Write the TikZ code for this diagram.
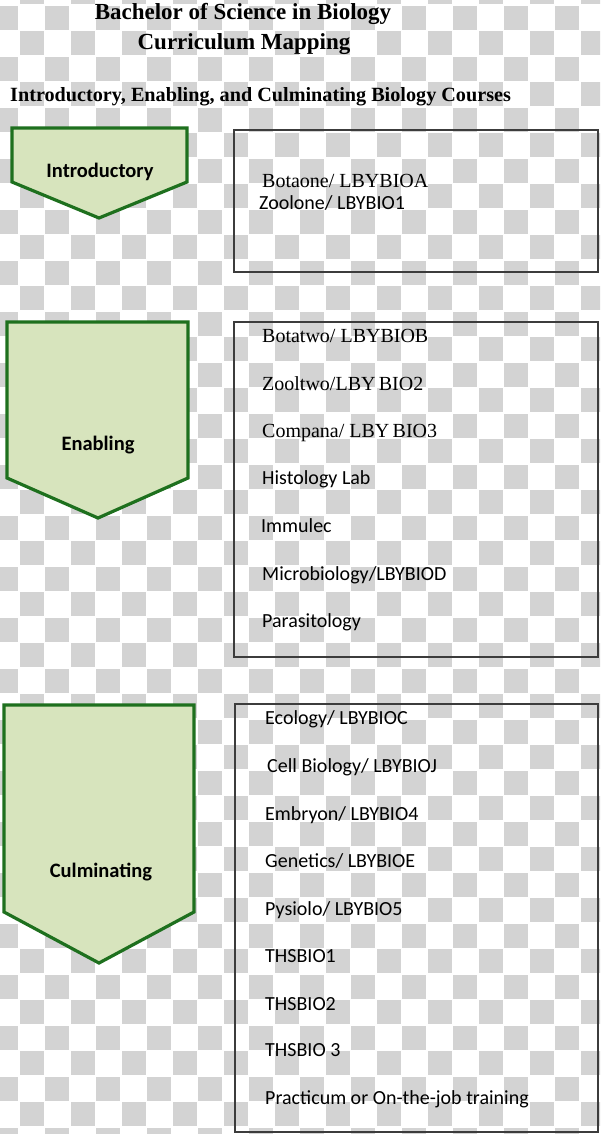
\documentclass[tikz,border=0pt]{standalone}
\usepackage{fontspec}
\setmainfont{Liberation Serif}
\newfontfamily\calfont{Carlito}
\definecolor{checkgray}{RGB}{211,211,211}
\definecolor{chevfill}{RGB}{215,228,189}
\definecolor{chevline}{RGB}{30,112,30}
\definecolor{boxline}{RGB}{60,60,60}
\tikzset{
  chevron/.style={draw=chevline,fill=chevfill,line width=3.2pt,line join=miter},
  coursebox/.style={draw=boxline,line width=1.2pt},
  chevlabel/.style={font=\calfont\bfseries\fontsize{20.5}{24}\selectfont,inner sep=0pt},
  titletext/.style={font=\bfseries\fontsize{23}{27}\selectfont,inner sep=0pt,anchor=base},
  subtitletext/.style={font=\bfseries\fontsize{20.2}{24}\selectfont,inner sep=0pt,anchor=base west},
  timesitem/.style={font=\fontsize{20}{24}\selectfont,inner sep=0pt,anchor=base west},
  calitem/.style={font=\calfont\fontsize{20}{24}\selectfont,inner sep=0pt,anchor=base west},
}
\begin{document}
\begin{tikzpicture}[x=1pt,y=-1pt]
\useasboundingbox (0,0) rectangle (600,1134);
\begin{scope}
\clip (0,0) rectangle (600,1134);
\fill[white] (0,0) rectangle (600,1134);
\foreach \j in {0,...,45} {
  \foreach \i in {0,...,24} {
    \pgfmathtruncatemacro\cellpar{mod(\i+\j,2)}
    \ifnum\cellpar=1
      \fill[checkgray] ({19+25.5*(\i-1)+0.8},{5+25.5*(\j-1)+0.8}) rectangle ({19+25.5*\i-0.8},{5+25.5*\j-0.8});
    \fi
  }
}
\end{scope}

% titles
\node[titletext] (t1) at (243,20) {Bachelor of Science in Biology};
\node[titletext] (t2) at (244,50) {Curriculum Mapping};
\node[subtitletext] (t3) at (10,102) {Introductory, Enabling, and Culminating Biology Courses};

% chevrons
\draw[chevron] (12,128) -- (187,128) -- (187,182) -- (99,218) -- (12,182) -- cycle;
\node[chevlabel] (intro) at (100,172) {Introductory};
\draw[chevron] (7,322) -- (188,322) -- (188,478) -- (98,518) -- (7,478) -- cycle;
\node[chevlabel] (enab) at (98,445) {Enabling};
\draw[chevron] (4,705) -- (194,705) -- (194,912) -- (99,963) -- (4,912) -- cycle;
\node[chevlabel] (culm) at (101,872) {Culminating};

% boxes
\draw[coursebox] (234,130) rectangle (598,272);
\draw[coursebox] (234,322) rectangle (598,657);
\draw[coursebox] (235,704) rectangle (598,1132);

% box 1
\node[timesitem] (b1a) at (262,187) {Botaone/ LBYBIOA};
\node[calitem] (b1b) at (259,209) {Zoolone/ LBYBIO1};

% box 2
\node[timesitem] (b2a) at (262,342) {Botatwo/ LBYBIOB};
\node[timesitem] (b2b) at (262,390) {Zooltwo/LBY\,BIO2};
\node[timesitem] (b2c) at (262,437) {Compana/ LBY\,BIO3};
\node[calitem] (b2d) at (262,484) {Histology Lab};
\node[calitem] (b2e) at (261,532) {Immulec};
\node[calitem] (b2f) at (262,580) {Microbiology/LBYBIOD};
\node[calitem] (b2g) at (262,627) {Parasitology};

% box 3
\node[calitem] (b3a) at (265,724) {Ecology/ LBYBIOC};
\node[calitem] (b3b) at (267,772) {Cell Biology/ LBYBIOJ};
\node[calitem] (b3c) at (265,820) {Embryon/ LBYBIO4};
\node[calitem] (b3d) at (265,867) {Genetics/ LBYBIOE};
\node[calitem] (b3e) at (265,915) {Pysiolo/ LBYBIO5};
\node[calitem] (b3f) at (265,962) {THSBIO1};
\node[calitem] (b3g) at (265,1010) {THSBIO2};
\node[calitem] (b3h) at (265,1056) {THSBIO 3};
\node[calitem] (b3i) at (265,1104) {Practicum or On-the-job training};
\end{tikzpicture}
\end{document}
